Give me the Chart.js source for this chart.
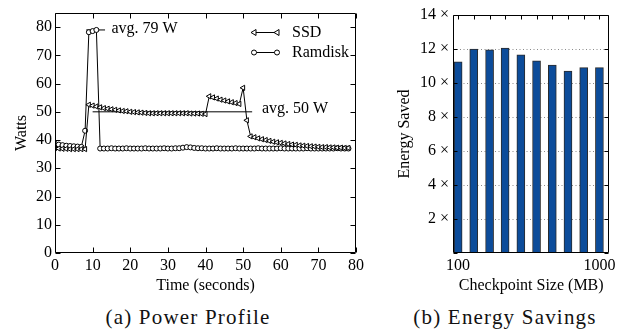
<!DOCTYPE html>
<html>
<head>
<meta charset="utf-8">
<script src="https://cdn.jsdelivr.net/npm/chart.js@4.4.1/dist/chart.umd.min.js"></script>
<style>
  body { margin: 0; background: #fff; width: 619px; height: 335px; position: relative; overflow: hidden; }
  canvas { position: absolute; top: 0; }
  #powerChart { left: 0; }
  #energyChart { left: 380px; }
  .caption { position: absolute; top: 305px; width: 240px; text-align: center;
             font-family: "Liberation Serif", "Times New Roman", serif; font-size: 21px; line-height: 24px;
             letter-spacing: 1.2px; color: #111; }
</style>
</head>
<body>
<canvas id="powerChart" width="370" height="300"></canvas>
<canvas id="energyChart" width="239" height="300"></canvas>
<div class="caption" style="left:68px">(a) Power Profile</div>
<div class="caption" style="left:385px">(b) Energy Savings</div>
<script>
// --- data: power profile ---
const timeSec = [0,1,2,3,4,5,6,7,8,9,10,11,12,13,14,15,16,17,18,19,20,21,22,23,24,25,26,27,28,29,30,31,32,33,34,35,36,37,38,39,
                 40,41,42,43,44,45,46,47,48,49,50,51,52,53,54,55,56,57,58,59,60,61,62,63,64,65,66,67,68,69,70,71,72,73,74,75,76,77,78];
const ssdWatts = [37.2,37.0,36.9,36.9,36.8,36.8,36.8,36.8,36.8,
                  52.5,52.2,51.9,51.6,51.3,51.1,50.9,50.7,50.5,50.3,50.2,50.0,49.9,49.8,49.7,49.6,
                  49.5,49.5,49.5,49.5,49.5,49.5,49.5,49.5,49.5,49.5,49.5,49.4,49.4,49.4,49.3,49.2,
                  55.5,55.1,54.7,54.3,54.0,53.7,53.4,53.1,52.8,
                  58.5,47.0,41.3,
                  41.0,40.6,40.3,40.0,39.7,39.4,39.2,39.0,38.8,38.6,38.4,38.3,38.1,38.0,37.9,37.8,37.7,37.6,37.5,37.5,
                  37.4,37.4,37.3,37.3,37.2,37.2];
const ramdiskWatts = [38.7,38.4,38.2,38.0,37.9,37.8,37.7,37.6,
                      43.3,78.2,78.6,79.0,
                      37.0,37.0,37.0,37.1,37.0,37.0,37.0,37.1,37.0,37.0,37.0,37.0,37.1,37.0,37.0,37.0,37.0,37.1,37.0,37.0,37.1,37.1,
                      37.3,37.5,37.4,37.2,
                      37.1,37.1,37.0,37.0,37.0,37.1,37.0,37.0,37.0,37.0,37.1,37.0,37.0,37.0,37.0,37.0,37.1,37.0,37.0,37.0,
                      37.0,37.0,37.1,37.0,37.0,37.0,37.0,37.0,37.0,37.1,37.0,37.0,37.0,37.0,37.0,37.0,37.0,37.1,37.0,37.0,37.0];
const avgPeakX = [8.3, 13.3];
const avgPeakY = [79, 79];
const avgSsdX = [10, 52.4];
const avgSsdY = [50, 50];
const avgNotes = ['avg. 79 W', 'avg. 50 W'];
const avgNoteX = [15, 55];
const avgNoteY = [79.5, 51.2];
const powerXTicks = [0, 10, 20, 30, 40, 50, 60, 70, 80];
const powerYTicks = [0, 10, 20, 30, 40, 50, 60, 70, 80];

// --- data: energy savings ---
const checkpointMB = [100, 129, 167, 215, 278, 359, 464, 599, 774, 1000];
const energySaved = [11.25, 12.0, 11.95, 12.05, 11.65, 11.3, 11.05, 10.7, 10.9, 10.9];
const sizeTicks = [100, 1000];
const savedTicks = [0, 2, 4, 6, 8, 10, 12, 14];
const savedGrid = [2, 4, 6, 8, 10, 12];

const SERIF = '"Liberation Serif", "Times New Roman", serif';
Chart.defaults.font.family = SERIF;
Chart.defaults.font.size = 16;
Chart.defaults.color = '#000';

const zip = (xs, ys) => xs.map((x, i) => ({ x: x, y: ys[i] }));
const crisp = v => Math.round(v) + 0.5;

// gnuplot style box with inward ticks
function makeFrame(cfg) {
    return {
        id: 'frame',
        afterDatasetsDraw(chart) {
            const { ctx, chartArea: a } = chart;
            const xs = chart.scales.x, ys = chart.scales.y;
            const L = crisp(a.left), R = crisp(a.right - 1), T = crisp(a.top), B = crisp(a.bottom - 1);
            const len = cfg.len;
            ctx.save();
            ctx.strokeStyle = '#000';
            ctx.lineWidth = 1;
            ctx.beginPath();
            ctx.rect(L, T, R - L, B - T);
            (cfg.xTop || []).forEach(v => { const p = crisp(xs.getPixelForValue(v)); ctx.moveTo(p, T); ctx.lineTo(p, T + len); });
            (cfg.xBottom || []).forEach(v => { const p = crisp(xs.getPixelForValue(v)); ctx.moveTo(p, B); ctx.lineTo(p, B - len); });
            (cfg.yLeft || []).forEach(v => { const p = crisp(ys.getPixelForValue(v)); ctx.moveTo(L, p); ctx.lineTo(L + len, p); });
            (cfg.yRight || []).forEach(v => { const p = crisp(ys.getPixelForValue(v)); ctx.moveTo(R, p); ctx.lineTo(R - len, p); });
            ctx.stroke();
            ctx.restore();
        }
    };
}

// avg annotations
const avgText = {
    id: 'avgText',
    afterDatasetsDraw(chart) {
        const { ctx } = chart;
        const xs = chart.scales.x, ys = chart.scales.y;
        ctx.save();
        ctx.font = '16px ' + SERIF;
        ctx.fillStyle = '#000';
        ctx.textAlign = 'left';
        ctx.textBaseline = 'middle';
        avgNotes.forEach((t, i) => ctx.fillText(t, xs.getPixelForValue(avgNoteX[i]), ys.getPixelForValue(avgNoteY[i])));
        ctx.restore();
    }
};

// legend inside the top right corner, like gnuplot's key
const keyBox = {
    id: 'keyBox',
    afterDatasetsDraw(chart) {
        const { ctx, chartArea: a } = chart;
        const x1 = a.right - 102, x2 = a.right - 79, tx = a.right - 64;
        const rows = [{ label: 'SSD', y: a.top + 19, tri: true }, { label: 'Ramdisk', y: a.top + 39, tri: false }];
        ctx.save();
        ctx.strokeStyle = '#000';
        ctx.lineWidth = 1;
        ctx.font = '16px ' + SERIF;
        ctx.fillStyle = '#000';
        ctx.textBaseline = 'middle';
        rows.forEach(r => {
            const y = crisp(r.y);
            ctx.beginPath();
            ctx.moveTo(x1, y); ctx.lineTo(x2, y);
            ctx.stroke();
            [x1, x2].forEach(x => {
                ctx.beginPath();
                if (r.tri) {
                    ctx.moveTo(x - 3, y); ctx.lineTo(x + 2, y - 3); ctx.lineTo(x + 2, y + 3); ctx.closePath();
                } else {
                    ctx.arc(x, y, 2.5, 0, Math.PI * 2);
                }
                ctx.fillStyle = '#fff';
                ctx.fill();
                ctx.stroke();
            });
            ctx.fillStyle = '#000';
            ctx.fillText(r.label, tx, y);
        });
        ctx.restore();
    }
};

// dotted horizontal guides behind the bars
const dottedGrid = {
    id: 'dottedGrid',
    beforeDatasetsDraw(chart) {
        const { ctx, chartArea: a } = chart;
        const ys = chart.scales.y;
        ctx.save();
        ctx.strokeStyle = '#8a8a8a';
        ctx.lineWidth = 1;
        ctx.setLineDash([1, 2.5]);
        ctx.beginPath();
        savedGrid.forEach(v => { const p = crisp(ys.getPixelForValue(v)); ctx.moveTo(a.left, p); ctx.lineTo(a.right, p); });
        ctx.stroke();
        ctx.restore();
    }
};

// --- 1. Power profile ---
new Chart(document.getElementById('powerChart'), {
    type: 'line',
    data: {
        datasets: [
            {
                label: 'SSD',
                data: zip(timeSec, ssdWatts),
                borderColor: '#000',
                borderWidth: 1,
                pointStyle: 'triangle',
                pointRotation: 270,
                pointRadius: 3,
                pointBackgroundColor: '#fff',
                pointBorderColor: '#000',
                pointBorderWidth: 1
            },
            {
                label: 'Ramdisk',
                data: zip(timeSec, ramdiskWatts),
                borderColor: '#000',
                borderWidth: 1,
                pointStyle: 'circle',
                pointRadius: 2.5,
                pointBackgroundColor: '#fff',
                pointBorderColor: '#000',
                pointBorderWidth: 1
            },
            { data: zip(avgPeakX, avgPeakY), borderColor: '#000', borderWidth: 1, pointRadius: 0 },
            { data: zip(avgSsdX, avgSsdY), borderColor: '#000', borderWidth: 1, pointRadius: 0 }
        ]
    },
    options: {
        responsive: false,
        animation: false,
        devicePixelRatio: 1,
        layout: { padding: { left: 8, top: 13, right: 14, bottom: 1 } },
        plugins: { legend: { display: false }, tooltip: { enabled: false } },
        scales: {
            x: {
                type: 'linear', min: 0, max: 80,
                afterBuildTicks: s => { s.ticks = powerXTicks.map(v => ({ value: v })); },
                afterFit: s => { s.height = 46; },
                grid: { display: false, drawTicks: false },
                border: { display: false },
                ticks: { padding: 3, maxRotation: 0, autoSkip: false },
                title: { display: true, text: 'Time (seconds)', padding: { top: 2, bottom: 4 } }
            },
            y: {
                type: 'linear', min: 0, max: 85,
                afterBuildTicks: s => { s.ticks = powerYTicks.map(v => ({ value: v })); },
                afterFit: s => { s.width = 47; },
                grid: { display: false, drawTicks: false },
                border: { display: false },
                ticks: { padding: 3, autoSkip: false },
                title: { display: true, text: 'Watts', padding: { top: 4, bottom: 2 } }
            }
        }
    },
    plugins: [makeFrame({ len: 5, xTop: powerXTicks, xBottom: powerXTicks, yLeft: powerYTicks, yRight: powerYTicks }), avgText, keyBox]
});

// --- 2. Energy savings ---
new Chart(document.getElementById('energyChart'), {
    type: 'bar',
    data: {
        datasets: [{
            data: zip(checkpointMB, energySaved),
            backgroundColor: '#0c4c9a',
            borderColor: '#2b2b2b',
            borderWidth: 1,
            barThickness: 8
        }]
    },
    options: {
        responsive: false,
        animation: false,
        devicePixelRatio: 1,
        layout: { padding: { left: 11, top: 15, right: 9, bottom: 1 } },
        plugins: { legend: { display: false }, tooltip: { enabled: false } },
        scales: {
            x: {
                type: 'logarithmic', min: 92, max: 1176, offset: false, bounds: 'data',
                afterBuildTicks: s => { s.ticks = sizeTicks.map(v => ({ value: v })); },
                afterFit: s => { s.height = 46; },
                grid: { display: false, drawTicks: false },
                border: { display: false },
                ticks: { padding: 3, maxRotation: 0, autoSkip: false, callback: v => String(v) },
                title: { display: true, text: 'Checkpoint Size (MB)', padding: { top: 2, bottom: 4 } }
            },
            y: {
                type: 'linear', min: 0, max: 14,
                afterBuildTicks: s => { s.ticks = savedTicks.map(v => ({ value: v })); },
                afterFit: s => { s.width = 62; },
                grid: { display: false, drawTicks: false },
                border: { display: false },
                ticks: { padding: 4, autoSkip: false, callback: v => v === 0 ? '' : v + ' \u00d7' },
                title: { display: true, text: 'Energy Saved', padding: { top: 4, bottom: 2 } }
            }
        }
    },
    plugins: [dottedGrid, makeFrame({ len: 4, xTop: checkpointMB, yLeft: savedTicks, yRight: savedTicks })]
});
</script>
</body>
</html>
